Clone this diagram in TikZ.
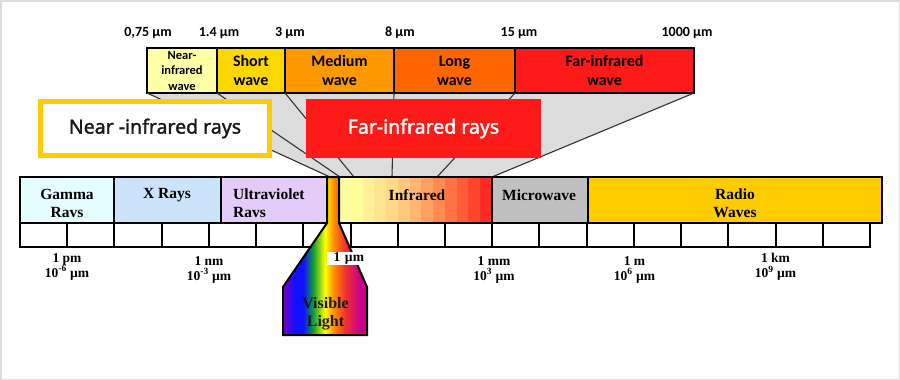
\documentclass[tikz,border=0pt]{standalone}
\usepackage{fontspec}
\setmainfont{Liberation Serif}
\newfontfamily\calibfont{Carlito}
\newfontfamily\notofont{Noto Sans}[FakeBold=1.6]
\usetikzlibrary{positioning}

\definecolor{NearYellow}{HTML}{FFFFA6}
\definecolor{ShortGold}{HTML}{FFD700}
\definecolor{MediumOrange}{HTML}{FF9900}
\definecolor{LongOrange}{HTML}{FF6600}
\definecolor{FarRed}{HTML}{FF1A1A}
\definecolor{RayGold}{HTML}{FFCC00}
\definecolor{FunnelGray}{HTML}{DCDCDC}
\definecolor{FrameGray}{HTML}{DDDDDD}
\definecolor{GammaCyan}{HTML}{E5FFFF}
\definecolor{XBlue}{HTML}{CCE4FA}
\definecolor{UVLilac}{HTML}{E3CCF7}
\definecolor{MicroGray}{HTML}{C0C0C0}
\definecolor{RadioGold}{HTML}{FFCC00}
\definecolor{SpecPurple}{HTML}{7A00C8}
\definecolor{SpecBlue}{HTML}{1010FF}
\definecolor{SpecGreen}{HTML}{10A030}
\definecolor{SpecYellow}{HTML}{FFFF00}
\definecolor{SpecOrange}{HTML}{FF9000}
\definecolor{SpecRed}{HTML}{F03030}
\definecolor{SpecMagenta}{HTML}{C8008C}

\pgfdeclarehorizontalshading{spectrum}{100bp}{color(0bp)=(SpecPurple); color(25bp)=(SpecPurple); color(32bp)=(SpecBlue); color(37bp)=(SpecBlue); color(43bp)=(SpecGreen); color(50bp)=(SpecYellow); color(55bp)=(SpecOrange); color(62bp)=(SpecRed); color(71bp)=(SpecMagenta); color(100bp)=(SpecMagenta)}

\begin{document}
\begin{tikzpicture}[x=1pt, y=-1pt, node distance=0pt]
	\tikzset{
		CellStyle/.style = {draw=black, line width=1.5pt, minimum height=45pt,
			inner sep=0pt, outer sep=0pt, align=center,
			font=\calibfont\bfseries\fontsize{16}{19}\selectfont},
		BandStyle/.style = {draw=black, line width=2pt, minimum height=46pt,
			inner sep=0pt, outer sep=0pt},
		BandText/.style = {align=center, inner sep=0pt,
			font=\bfseries\fontsize{15.5}{18}\selectfont},
		ScaleText/.style = {align=center, inner sep=0pt,
			font=\bfseries\fontsize{13.5}{15}\selectfont},
		TopLabel/.style = {inner sep=0pt,
			font=\calibfont\bfseries\fontsize{14}{16}\selectfont},
		RayText/.style = {inner sep=0pt, font=\notofont\fontsize{19.5}{23}\selectfont},
		FunnelLine/.style = {draw=black!80, line width=1.1pt}
	}
	\useasboundingbox (0,0) rectangle (900,380);
	\draw[FrameGray, line width=1.5pt] (0.75,0.75) rectangle (899.25,379.25);
	
	% funnel
	\coordinate (ir0) at (330,177);
	\coordinate (ir1) at (340,177);
	\coordinate (ir2) at (354,177);
	\coordinate (ir3) at (392,177);
	\coordinate (ir4) at (437,177);
	\coordinate (ir5) at (492,177);
	\fill[FunnelGray] (147,93) -- (694,93) -- (ir5) -- (ir0) -- cycle;
	
	% infrared sub-bands
	\node[CellStyle, fill=NearYellow, minimum width=70pt, anchor=north west,
		font=\calibfont\bfseries\fontsize{12.5}{15.5}\selectfont] (nearwave) at (147,48) {Near-\\infrared\\wave};
	\node[CellStyle, fill=ShortGold, minimum width=68pt, right=of nearwave] (shortwave) {Short\\wave};
	\node[CellStyle, fill=MediumOrange, minimum width=109pt, right=of shortwave] (mediumwave) {Medium\\wave};
	\node[CellStyle, fill=LongOrange, minimum width=121pt, right=of mediumwave] (longwave) {Long\\wave};
	\node[CellStyle, fill=FarRed, minimum width=179pt, right=of longwave] (farwave) {Far-infrared\\wave};
	
	\node[TopLabel] (t075) at (148,33) {0,75 µm};
	\node[TopLabel] (t14) at (219,33) {1.4 µm};
	\node[TopLabel] (t3) at (290,33) {3 µm};
	\node[TopLabel] (t8) at (400,33) {8 µm};
	\node[TopLabel] (t15) at (519,33) {15 µm};
	\node[TopLabel] (t1000) at (687,33) {1000 µm};
	
	\draw[FunnelLine] (nearwave.south west) -- (ir0);
	\draw[FunnelLine] (shortwave.south west) -- (ir1);
	\draw[FunnelLine] (mediumwave.south west) -- (ir2);
	\draw[FunnelLine] (longwave.south west) -- (ir3);
	\draw[FunnelLine] (farwave.south west) -- (ir4);
	\draw[FunnelLine] (farwave.south east) -- (ir5);
	
	\node[RayText, draw=RayGold, line width=5pt, fill=white, minimum width=229pt, minimum height=54pt,
		text=black!90] (nearrays) at (155,128.5) {Near -infrared rays};
	\node[RayText, fill=FarRed, text=white, minimum width=235pt, minimum height=59pt] (farrays) at (423.5,128.5) {Far-infrared rays};
	
	% spectrum bands
	\node[BandStyle, fill=GammaCyan, minimum width=94pt, anchor=north west] (gamma) at (20,177) {};
	\node[BandStyle, fill=XBlue, minimum width=107pt, right=of gamma] (xrays) {};
	\node[BandStyle, fill=UVLilac, minimum width=106pt, right=of xrays] (uv) {};
	\node[BandStyle, minimum width=153pt, right=12pt of uv,
		path picture={
			\foreach \c [count=\i from 0] in {FFFFA0,FFFF99,FFF09A,FFE492,FFD888,FFC880,FFB672,FFA062,FF8A52,FF7444,FF5C38,FF442C,FF2A22}{
				\definecolor{IRStripe}{HTML}{\c}
				\fill[IRStripe] ([xshift={11.77*\i}]path picture bounding box.north west) rectangle +(11.9,46);
			}
		}] (infrared) {};
	\node[BandStyle, fill=MicroGray, minimum width=96pt, right=of infrared] (micro) {};
	\node[BandStyle, fill=RadioGold, minimum width=294pt, right=of micro] (radio) {};
	
	\node[BandStyle, minimum width=850pt, minimum height=24pt, anchor=north west] (scale) at (gamma.south west) {};
	\foreach \k in {1,...,17}
		\draw[line width=2pt] ([xshift={47.22*\k}]scale.north west) -- ([xshift={47.22*\k}]scale.south west);
	
	% visible light
	\shadedraw[shading=spectrum, line width=2pt, line join=miter] (uv.north east) -- (infrared.north west) -- (infrared.south west)
		-- (367,287) -- (367,335) -- (283,335) -- (283,287) -- (uv.south east) -- cycle;
	\node[BandText, text=black!90, font=\bfseries\fontsize{16}{18}\selectfont] (visible) at (325.5,313.5) {Visible\\Light};
	\node[fill=white, inner sep=0pt, inner xsep=1pt, text width=36pt, align=right, minimum height=13pt,
		font=\bfseries\fontsize{13.5}{15}\selectfont] (onemu) at (346,258.5) {1 µm};
	
	\node[BandText] (gammatext) at (67,203) {Gamma\\Ravs};
	\node[BandText] (xraystext) at (167,195) {X Rays};
	\node[BandText, align=left, anchor=west] (uvtext) at (233,203) {Ultraviolet\\Ravs};
	\node[BandText] (irtext) at (417,195) {Infrared};
	\node[BandText] (microtext) at (539,195) {Microwave};
	\node[BandText] (radiotext) at (735,203) {Radio\\Waves};
	
	\node[ScaleText] (pm) at (67,266.5) {1 pm\\10\textsuperscript{-6} µm};
	\node[ScaleText] (nm) at (209,269.5) {1 nm\\10\textsuperscript{-3} µm};
	\node[ScaleText] (mm) at (494,269.5) {1 mm\\10\textsuperscript{3} µm};
	\node[ScaleText] (m) at (634.5,269.5) {1 m\\10\textsuperscript{6} µm};
	\node[ScaleText] (km) at (775.5,266.5) {1 km\\10\textsuperscript{9} µm};
\end{tikzpicture}
\end{document}
